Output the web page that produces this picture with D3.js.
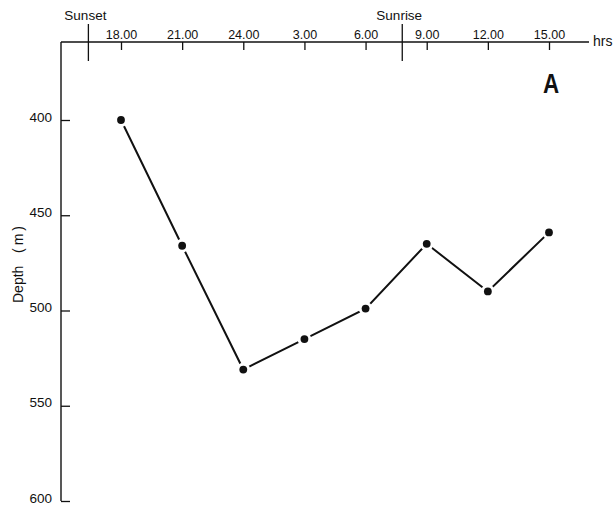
<!DOCTYPE html>
<html>
<head>
<meta charset="utf-8">
<script src="https://cdn.jsdelivr.net/npm/d3@7"></script>
<style>
  body { margin: 0; background: #fff; }
  svg text { font-family: "Liberation Sans", Arial, sans-serif; fill: #111; }
</style>
</head>
<body>
<div id="chart"></div>
<script>
// sampling times (hours from previous midnight, past 24 = next day)
var hours  = [18, 21, 24, 27, 30, 33, 36, 39];
var depths = [400, 466, 531, 515, 499, 465, 490, 459];
var hourLabels = ["18.00", "21.00", "24.00", "3.00", "6.00", "9.00", "12.00", "15.00"];
var depthTicks = [400, 450, 500, 550, 600];
var sunEvents = ["Sunset", "Sunrise"];
var sunHours  = [16.4, 31.8];

var width = 616, height = 507;
var svg = d3.select("#chart").append("svg")
    .attr("width", width)
    .attr("height", height);

var axisY = 42, axisX = 61;

var x = d3.scaleLinear().domain([18, 39]).range([121, 549]);
var y = d3.scaleLinear().domain([400, 600]).range([120, 501]);

//////////// AXES ////////////

// top time axis
var xAxis = d3.axisTop(x)
    .tickValues(hours)
    .tickFormat(function(d, i) { return hourLabels[i]; })
    .tickSizeInner(-8)
    .tickSizeOuter(0)
    .tickPadding(3);

var gx = svg.append("g")
    .attr("transform", "translate(0," + axisY + ")")
    .call(xAxis);
gx.select(".domain").remove();
gx.selectAll("line").attr("stroke", "#111").attr("stroke-width", 1.3);
gx.selectAll("text").style("font-size", "12.5px").attr("fill", "#111");

svg.append("line")
    .attr("x1", axisX).attr("x2", 589)
    .attr("y1", axisY).attr("y2", axisY)
    .attr("stroke", "#111").attr("stroke-width", 1.4);

svg.append("text")
    .attr("x", 593).attr("y", 46)
    .style("font-size", "14px")
    .text("hrs");

// left depth axis, labels sit on their tick
var yAxis = d3.axisLeft(y)
    .tickValues(depthTicks)
    .tickSizeInner(-9)
    .tickSizeOuter(0)
    .tickPadding(9);

var gy = svg.append("g")
    .attr("transform", "translate(" + axisX + ",0)")
    .call(yAxis);
gy.select(".domain").remove();
gy.selectAll("line").attr("stroke", "#111").attr("stroke-width", 1.3);
gy.selectAll("text")
    .attr("dy", "0")
    .attr("y", 1)
    .style("font-size", "13.5px")
    .attr("fill", "#111");

svg.append("line")
    .attr("x1", axisX).attr("x2", axisX)
    .attr("y1", axisY).attr("y2", y(600))
    .attr("stroke", "#111").attr("stroke-width", 1.4);

// rotated axis title
svg.append("text")
    .attr("transform", "translate(23,303) rotate(-90)")
    .style("font-size", "14px")
    .text("Depth");
svg.append("text")
    .attr("transform", "translate(23,253) rotate(-90)")
    .style("font-size", "14px")
    .style("letter-spacing", "3px")
    .text("(m)");

// sunset / sunrise markers
sunEvents.forEach(function(name, i) {
  var sx = x(sunHours[i]);
  svg.append("line")
      .attr("x1", sx).attr("x2", sx)
      .attr("y1", 24).attr("y2", 61)
      .attr("stroke", "#111").attr("stroke-width", 1.3);
  svg.append("text")
      .attr("x", sx - 3).attr("y", 20)
      .attr("text-anchor", "middle")
      .style("font-size", "13.5px")
      .text(name);
});

//////////// DATA ////////////

var pts = hours.map(function(h, i) { return [x(h), y(depths[i])]; });

svg.append("path")
    .attr("d", d3.line()(pts))
    .attr("fill", "none")
    .attr("stroke", "#111")
    .attr("stroke-width", 2);

// dots with a white halo so the line stops short of them
svg.append("g").selectAll("circle")
    .data(pts)
    .enter().append("circle")
    .attr("cx", function(d) { return d[0]; })
    .attr("cy", function(d) { return d[1]; })
    .attr("r", 3.9)
    .attr("fill", "#111")
    .attr("stroke", "#fff")
    .attr("stroke-width", 6)
    .attr("paint-order", "stroke");

// panel letter (narrow bold)
svg.append("text")
    .attr("transform", "translate(551,93) scale(0.8,1)")
    .attr("text-anchor", "middle")
    .style("font-size", "28px")
    .style("font-weight", "bold")
    .text("A");
</script>
</body>
</html>
